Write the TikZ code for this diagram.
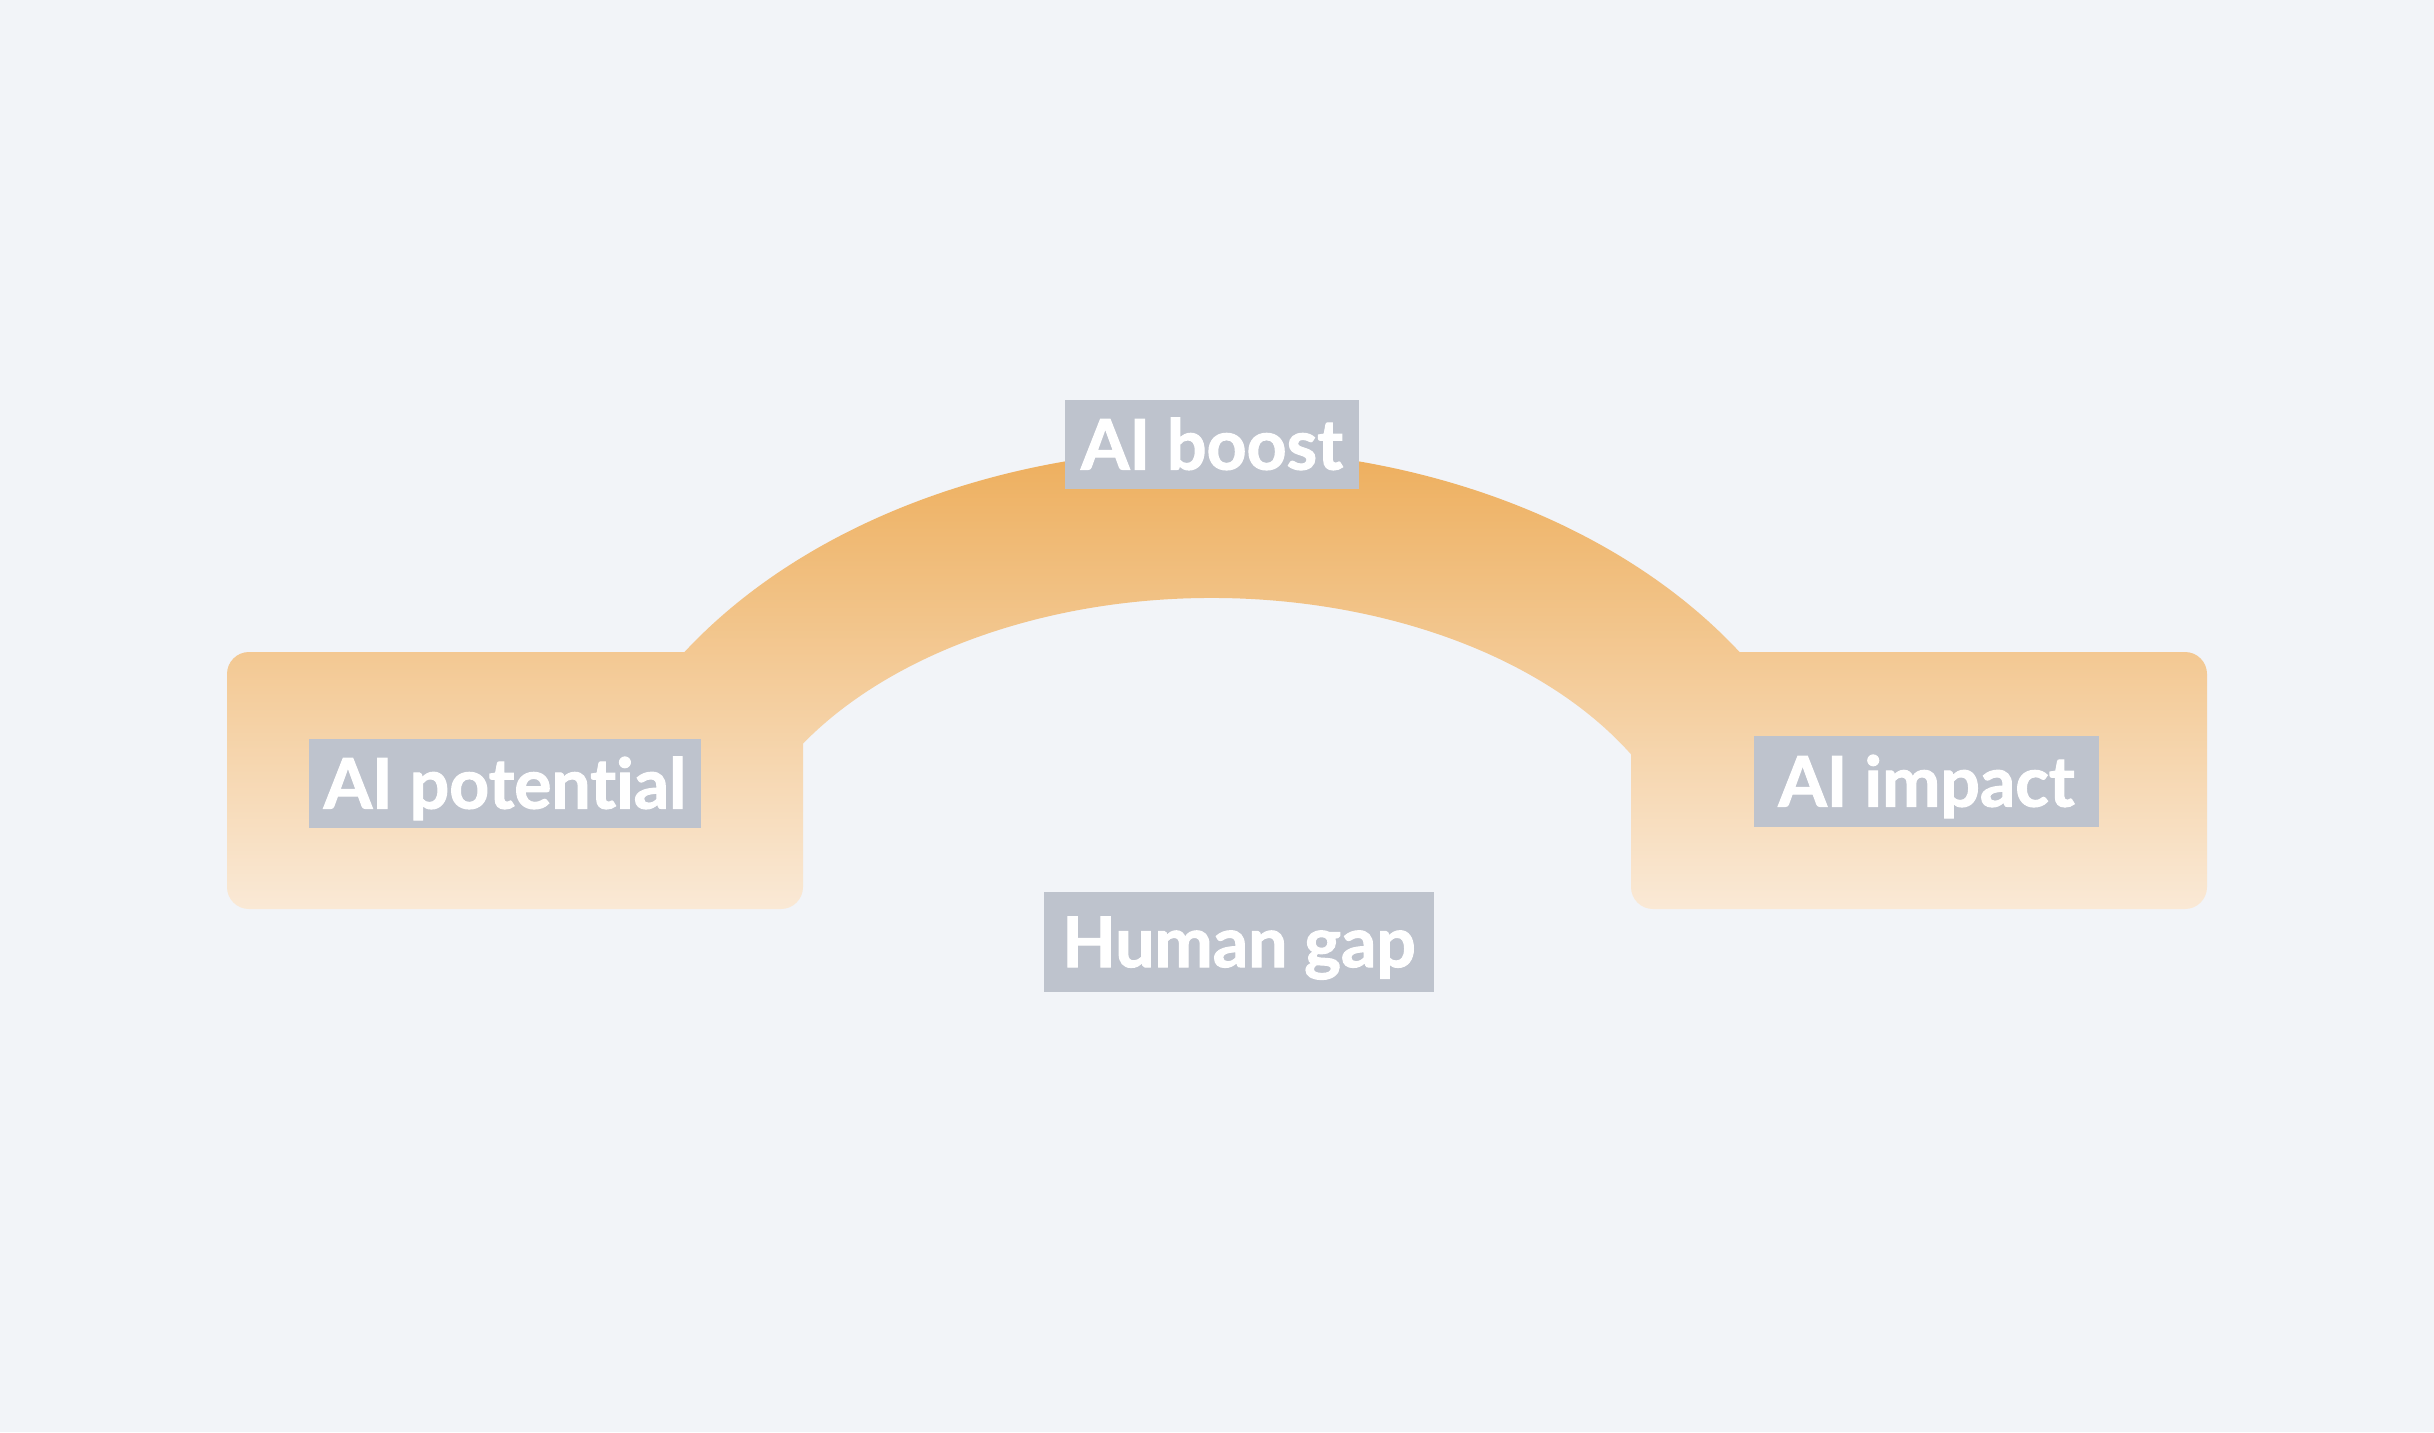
\documentclass[tikz,border=0pt]{standalone}
\usepackage{fontspec}
\setmainfont{Lato}[Ligatures=NoCommon, BoldFeatures={FakeBold=1.6}]
\definecolor{bgc}{HTML}{F2F4F8}
\definecolor{archtop}{HTML}{EDAD5A}
\definecolor{archmid}{HTML}{F1BF7C}
\definecolor{archbot}{HTML}{FAE9D6}
\definecolor{tagbg}{HTML}{BEC3CD}
\begin{document}
\begin{tikzpicture}[x=0.1mm,y=0.1mm,
  tag/.style={fill=tagbg, text=white, font=\fontsize{19.8}{22}\selectfont\bfseries,
    inner sep=0pt, text height=5mm, text depth=0pt, anchor=center}]
\fill[bgc] (0,0) rectangle (2434,1432);
% bridge shape: two blocks joined by an elliptical arch
\path[top color=archtop, middle color=archmid, bottom color=archbot]
  (227,545) -- (227,758) arc[start angle=180, end angle=90, radius=2.2mm]
  -- (684.5,780) arc[start angle=146.04, end angle=33.96, x radius=63.6mm, y radius=46mm]
  -- (2185,780) arc[start angle=90, end angle=0, radius=2.2mm]
  -- (2207,545) arc[start angle=0, end angle=-90, radius=2.2mm]
  -- (1653,523) arc[start angle=270, end angle=180, radius=2.2mm]
  -- (1631,677.7) arc[start angle=29.83, end angle=147.86, x radius=48.3mm, y radius=31.1mm]
  -- (803,545) arc[start angle=0, end angle=-90, radius=2.2mm]
  -- (249,523) arc[start angle=270, end angle=180, radius=2.2mm]
  -- cycle;
\node[tag, minimum width=29.4mm, minimum height=8.9mm] (boost) at (1212,987.5) {AI boost};
\node[tag, minimum width=39.2mm, minimum height=8.9mm] (potential) at (505,648.5) {AI potential};
\node[tag, minimum width=34.5mm, minimum height=9.1mm] (impact) at (1926.5,650.5) {AI impact};
\node[tag, minimum width=39mm, minimum height=10mm] (gap) at (1239,490) {Human gap};
\end{tikzpicture}
\end{document}
